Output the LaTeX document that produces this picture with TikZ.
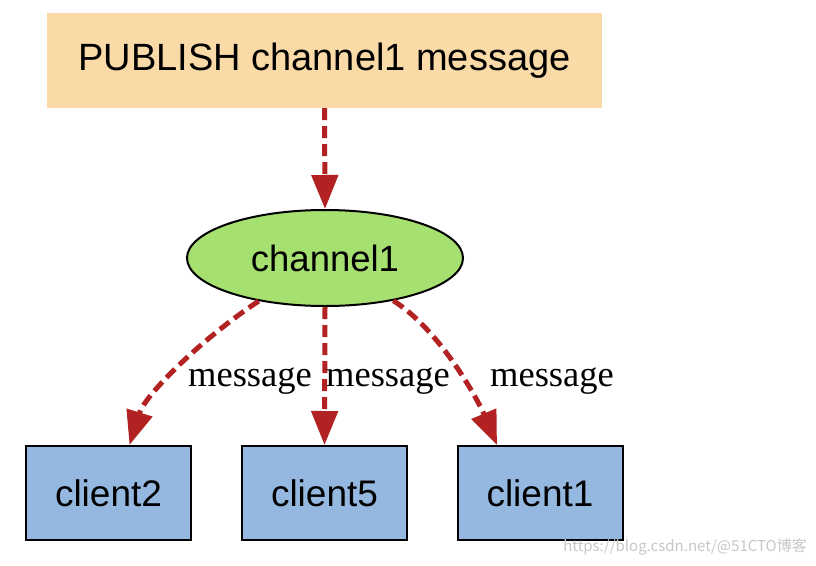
\documentclass[tikz,border=0pt]{standalone}
\usepackage{fontspec}
\setmainfont{Liberation Sans}
\newfontfamily\serifx{Liberation Serif}
\newfontfamily\cjk{Noto Sans CJK SC}
\usetikzlibrary{arrows.meta,calc,shapes.geometric}
\definecolor{peach}{HTML}{FADBA8}
\definecolor{grn}{HTML}{A6E070}
\definecolor{blu}{HTML}{95B8E0}
\definecolor{arr}{HTML}{B22222}
\tikzset{
  x=1pt,y=-1pt,
  topbox/.style={fill=peach,draw=none,minimum width=555pt,minimum height=95pt,inner sep=0pt,font=\fontsize{38}{42}\selectfont},
  chan/.style={ellipse,fill=grn,draw=black,line width=2pt,minimum width=276pt,minimum height=96pt,inner sep=0pt,font=\fontsize{36.5}{40}\selectfont},
  cbox/.style={fill=blu,draw=black,line width=2pt,minimum width=165pt,minimum height=94pt,inner sep=0pt,font=\fontsize{37}{40}\selectfont},
  flow/.style={draw=arr,line width=5pt,dash pattern=on 12pt off 6pt,-{Triangle[length=34pt,width=26pt]}},
  lbl/.style={font=\serifx\fontsize{36.5}{40}\selectfont,inner sep=0pt}
}
\begin{document}
\begin{tikzpicture}
\useasboundingbox (0,0) rectangle (816,565);
\node[topbox] (pub) at (324.5,60.5) {PUBLISH channel1 message};
\node[chan] (ch) at (325,258) {channel1};
\node[cbox] (c2) at (108.5,493) {client2};
\node[cbox] (c5) at (324.5,493) {client5};
\node[cbox] (c1) at (540,493) {client1};
\coordinate (e2) at ($(c2.north)+(21,0)$);
\coordinate (e1) at ($(c1.north)+(-43,0)$);
\draw[flow] (pub.south) -- (ch.north);
\draw[flow] (ch.213) .. controls (200,340) and (145,395) .. (e2);
\draw[flow] (ch.-32) .. controls (440,330) and (478,400) .. (e1);
\draw[flow] (ch.south) -- (c5.north);
\node[lbl] (l1) at (250,381) {message};
\node[lbl] (l2) at (388,381) {message};
\node[lbl] (l3) at (552,381) {message};
\node[font=\cjk\fontsize{15}{18}\selectfont,text=black!22,inner sep=0pt,anchor=east] (wm) at (807,547) {https://blog.csdn.net/@51CTO博客};
\end{tikzpicture}
\end{document}
